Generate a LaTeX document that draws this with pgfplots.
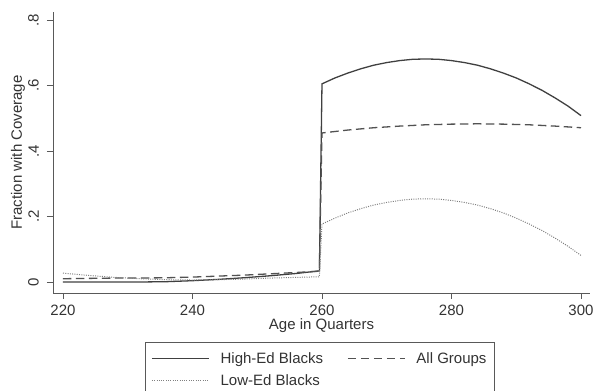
\documentclass[border=0pt]{standalone}
\usepackage{pgfplots}
\pgfplotsset{compat=1.18}
\usepackage{fontspec}
\setmainfont{Liberation Sans}
\definecolor{axgray}{gray}{0.35}
\definecolor{txtgray}{gray}{0.2}
\begin{document}
\begin{tikzpicture}
\useasboundingbox (0,0) rectangle (596bp,391bp);
\begin{axis}[
  at={(53bp,98bp)}, anchor=south west,
  scale only axis, width=537bp, height=281bp,
  xmin=218.46, xmax=301.39, ymin=-0.0336, ymax=0.8244,
  axis x line*=bottom, axis y line*=left,
  axis line style={-, axgray, line width=0.8bp},
  every tick/.style={axgray, line width=0.8bp},
  tick align=outside, major tick length=6bp,
  xtick={220,240,260,280,300},
  ytick={0,0.2,0.4,0.6,0.8},
  yticklabels={0,.2,.4,.6,.8},
  /pgf/number format/assume math mode=true,
  font=\fontsize{15bp}{18bp}\selectfont,
  tick label style={text=txtgray, font=\fontsize{15bp}{18bp}\selectfont},
  yticklabel style={rotate=90, anchor=south, inner xsep=2bp, inner ysep=8bp},
  xticklabel style={inner xsep=2bp, inner ysep=6bp},
  xlabel={Age in Quarters},
  ylabel={Fraction with Coverage},
  xlabel style={at={(axis description cs:0.5,-0.1174)}, anchor=center, text=txtgray},
  ylabel style={at={(axis description cs:-0.0652,0.5)}, anchor=center, rotate=0, text=txtgray},
  legend columns=2,
  legend cell align=left,
  legend style={at={(axis description cs:0.497,-0.174)}, anchor=north,
    draw=axgray, line width=0.8bp, text=txtgray,
    font=\fontsize{15bp}{18bp}\selectfont,
    inner xsep=6bp, inner ysep=8bp, row sep=5.5bp,
    /tikz/every odd column/.append style={column sep=9bp},
    /tikz/every even column/.append style={column sep=22bp}},
  legend image code/.code={\draw[#1] (0bp,0bp) -- (57bp,0bp);},
]
\addplot[black!75, line width=1.3bp] coordinates {
(220,0.000) (224,0.000) (228,0.000) (232,0.000) (236,0.001) (240,0.004)
(244,0.008) (248,0.013) (252,0.019) (256,0.026) (259.6,0.034)
(260,0.605) (262,0.623) (264,0.638) (266,0.651) (268,0.662) (270,0.670)
(272,0.676) (274,0.680) (276,0.681) (278,0.680) (280,0.676) (282,0.670)
(284,0.662) (286,0.651) (288,0.638) (290,0.623) (292,0.605) (294,0.585)
(296,0.562) (298,0.537) (300,0.508)
};
\addlegendentry{High-Ed Blacks}
\addplot[black!68, line width=1.3bp, dash pattern=on 8.5bp off 4.5bp] coordinates {
(220,0.010) (224,0.011) (228,0.012) (232,0.012) (236,0.013) (240,0.015)
(244,0.018) (248,0.021) (252,0.025) (256,0.029) (259.6,0.033)
(260,0.455) (264,0.464) (268,0.471) (272,0.476) (276,0.480) (280,0.482)
(284,0.483) (288,0.482) (292,0.480) (296,0.476) (300,0.471)
};
\addlegendentry{All Groups}
\addplot[black!50, line width=1bp, dash pattern=on 1bp off 1.3bp] coordinates {
(220,0.027) (224,0.020) (228,0.014) (232,0.010) (236,0.007) (240,0.006)
(244,0.007) (248,0.009) (252,0.012) (256,0.014) (259.6,0.016)
(260,0.177) (262,0.195) (264,0.211) (266,0.224) (268,0.235) (270,0.243)
(272,0.249) (274,0.253) (276,0.254) (278,0.253) (280,0.249) (282,0.243)
(284,0.235) (286,0.224) (288,0.211) (290,0.195) (292,0.177) (294,0.157)
(296,0.134) (298,0.109) (300,0.081)
};
\addlegendentry{Low-Ed Blacks}
\end{axis}
\end{tikzpicture}
\end{document}
